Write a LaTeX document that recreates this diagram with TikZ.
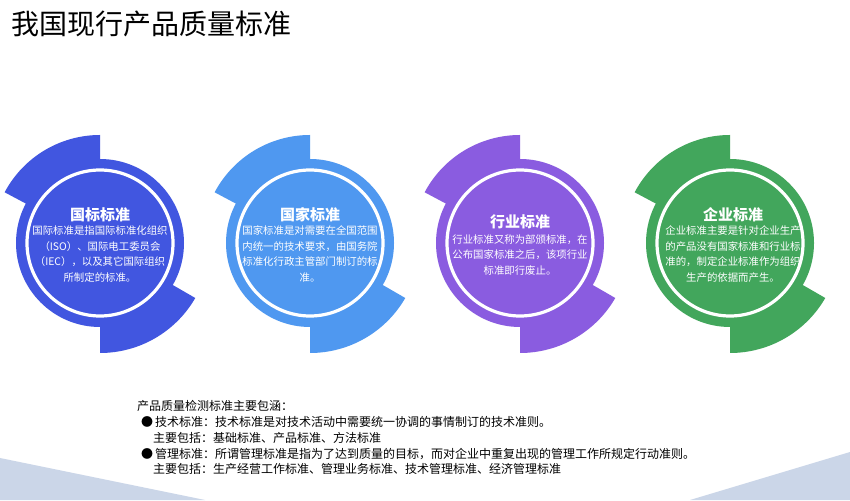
\documentclass[tikz,border=0pt]{standalone}
\usepackage{fontspec}
\setmainfont{Noto Sans CJK SC}
\begin{document}
\begin{tikzpicture}[x=1pt,y=1pt]
\definecolor{cA}{HTML}{4156E0}
\definecolor{cB}{HTML}{4F98F0}
\definecolor{cC}{HTML}{8A5CE0}
\definecolor{cD}{HTML}{42A65C}
\definecolor{band}{HTML}{CBD6E8}
\tikzset{
  ttl/.style={font=\bfseries\fontsize{15}{17}\selectfont, text=white, inner sep=0},
  body/.style={font=\fontsize{10.4}{15.5}\selectfont, text=white, align=center, inner sep=0},
  lst/.style={font=\fontsize{12}{14}\selectfont, anchor=west, inner sep=0}
}
\useasboundingbox (0,0) rectangle (850,500);
\fill[white] (0,0) rectangle (850,500);
\fill[band] (0,42) -- (205,0) -- (0,0) -- cycle;
\fill[band] (850,48) -- (690,0) -- (850,0) -- cycle;
\node[anchor=west, font=\fontsize{28}{32}\selectfont, inner sep=0] (title) at (11,476) {我国现行产品质量标准};
\foreach \cx/\col/\nm in {100/cA/c1, 310/cB/c2, 520/cC/c3, 730/cD/c4}{
  \coordinate (\nm) at (\cx,257);
  \fill[\col] (\nm) -- ++(90:108) arc[start angle=90,end angle=152,radius=108] -- cycle;
  \fill[\col] (\nm) -- ++(-90:110) arc[start angle=-90,end angle=-30,radius=110] -- cycle;
  \fill[\col] (\nm) circle[radius=84];
  \draw[white, line width=3.2] (\nm) circle[radius=73];
}
\begin{scope}
\clip (c1) circle[radius=71.5];
\node[ttl] (t1) at (100,285) {国标标准};
\node[body] (b1) at (100,246) {国际标准是指国际标准化组织\\（ISO）、国际电工委员会\\（IEC），以及其它国际组织\\所制定的标准。};
\end{scope}
\begin{scope}
\clip (c2) circle[radius=71.5];
\node[ttl] (t2) at (310,285) {国家标准};
\node[body] (b2) at (310,246) {国家标准是对需要在全国范围\\内统一的技术要求，由国务院\\标准化行政主管部门制订的标\\准。};
\end{scope}
\begin{scope}
\clip (c3) circle[radius=71.5];
\node[ttl] (t3) at (520,278) {行业标准};
\node[body] (b3) at (520,245) {行业标准又称为部颁标准，在\\公布国家标准之后，该项行业\\标准即行废止。};
\end{scope}
\begin{scope}
\clip (c4) circle[radius=71.5];
\node[ttl] (t4) at (733,285) {企业标准};
\node[body] (b4) at (733,246) {企业标准主要是针对企业生产\\的产品没有国家标准和行业标\\准的，制定企业标准作为组织\\生产的依据而产生。};
\end{scope}
\node[lst] (l0) at (137,94) {产品质量检测标准主要包涵：};
\node[lst] (l1) at (141,78) {●\,技术标准：技术标准是对技术活动中需要统一协调的事情制订的技术准则。};
\node[lst] (l2) at (153,62) {主要包括：基础标准、产品标准、方法标准};
\node[lst] (l3) at (141,46) {●\,管理标准：所谓管理标准是指为了达到质量的目标，而对企业中重复出现的管理工作所规定行动准则。};
\node[lst] (l4) at (153,31) {主要包括：生产经营工作标准、管理业务标准、技术管理标准、经济管理标准};
\end{tikzpicture}
\end{document}
